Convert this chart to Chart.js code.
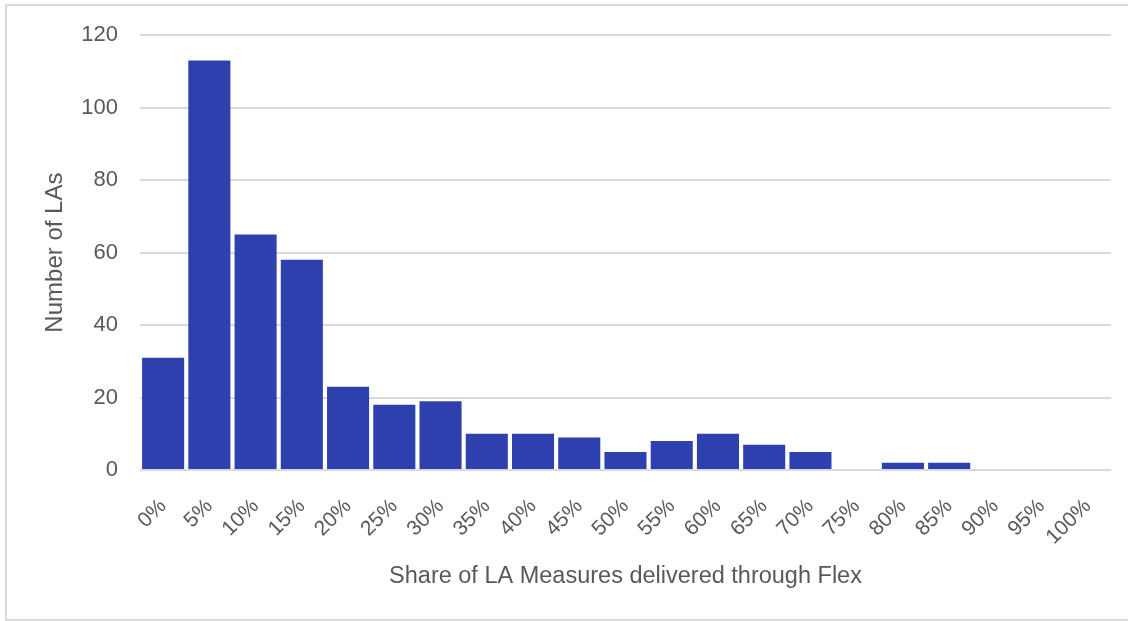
<!DOCTYPE html>
<html>
<head>
<meta charset="utf-8">
<script src="https://cdn.jsdelivr.net/npm/chart.js@4/dist/chart.umd.min.js"></script>
<style>
  body { margin: 0; background: #fff; }
  #wrap { position: relative; width: 1128px; height: 621px; overflow: hidden; }
  #frame { position: absolute; left: 5px; top: 4px; width: 1130px; height: 613px; border: 2px solid #d9d9d9; }
  #chart { position: absolute; left: 0; top: 0; }
</style>
</head>
<body>
<div id="wrap">
  <div id="frame"></div>
  <canvas id="chart" width="1128" height="621"></canvas>
</div>
<script>
// share of LA measures delivered through Flex (bin labels)
let categories = ["0%", "5%", "10%", "15%", "20%", "25%", "30%", "35%", "40%", "45%", "50%",
  "55%", "60%", "65%", "70%", "75%", "80%", "85%", "90%", "95%", "100%"];
// number of LAs in each bin
let laCounts = [31, 113, 65, 58, 23, 18, 19, 10, 10, 9, 5, 8, 10, 7, 5, 0, 2, 2, 0, 0, 0];
let yMin = 0;
let yMax = 120;
let yStep = 20;

let textColor = "#595959";
let fontFamily = "'Liberation Sans', Arial, sans-serif";

Chart.defaults.font.family = fontFamily;
Chart.defaults.color = textColor;

let ctx = document.getElementById("chart").getContext("2d");
let chart = new Chart(ctx, {
  type: "bar",
  data: {
    labels: categories,
    datasets: [
      {
        label: "Number of LAs",
        data: laCounts,
        backgroundColor: "#2E40AE",
        borderWidth: 0,
        barPercentage: 0.91,
        categoryPercentage: 1,
      },
    ],
  },
  options: {
    responsive: false,
    animation: false,
    devicePixelRatio: 1,
    layout: { padding: { left: 0, top: 35, right: 17, bottom: 0 } },
    plugins: {
      legend: { display: false },
      tooltip: { enabled: false },
    },
    scales: {
      x: {
        grid: { display: false },
        border: { display: false },
        ticks: {
          font: { size: 21 },
          color: textColor,
          minRotation: 45,
          maxRotation: 45,
          padding: 16,
          autoSkip: false,
        },
        title: {
          display: true,
          text: "Share of LA Measures delivered through Flex",
          font: { size: 23.5 },
          color: textColor,
          padding: { top: 0, bottom: 30 },
        },
        afterFit: (scale) => {
          scale.height = 151;
        },
      },
      y: {
        min: yMin,
        max: yMax,
        grid: { color: "#d9d9d9", lineWidth: 2, drawTicks: false },
        border: { display: false },
        ticks: {
          stepSize: yStep,
          font: { size: 22 },
          color: textColor,
          padding: 22,
        },
        title: {
          display: true,
          text: "Number of LAs",
          font: { size: 24 },
          color: textColor,
          padding: { top: 41, bottom: 0 },
        },
        afterFit: (scale) => {
          scale.width = 140;
        },
      },
    },
  },
});
</script>
</body>
</html>
